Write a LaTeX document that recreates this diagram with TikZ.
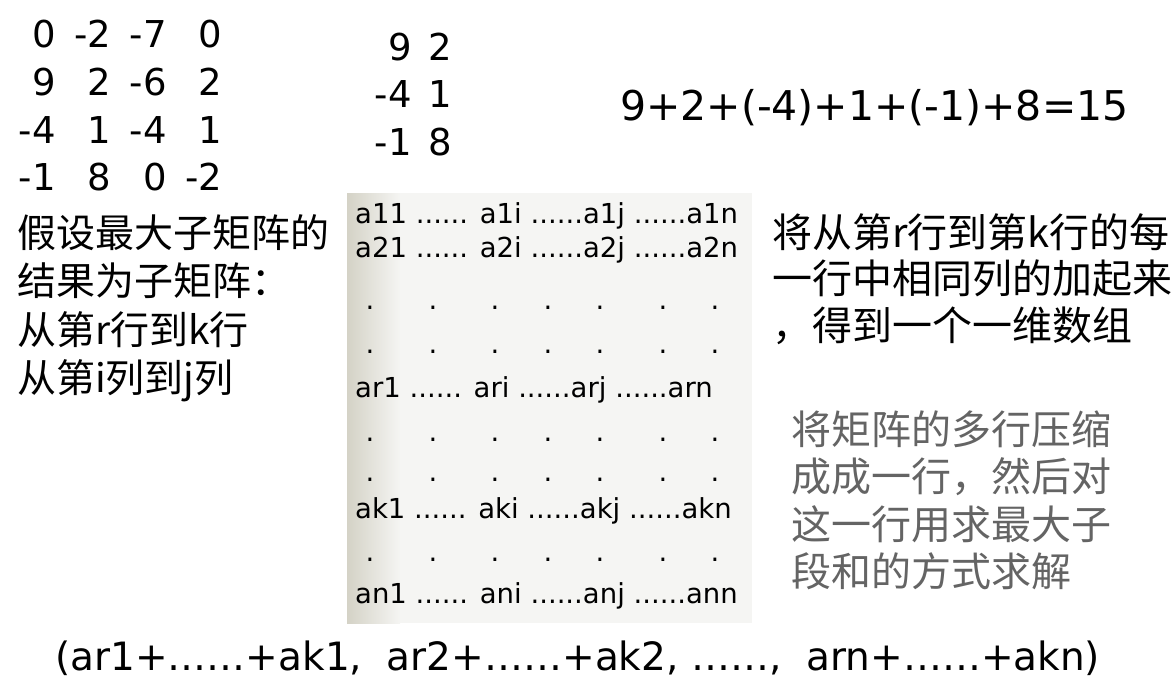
\documentclass[tikz,border=0pt]{standalone}
\usepackage{fontspec}
\setmainfont{DejaVu Sans}
\newfontfamily\cjk{Noto Sans CJK SC}
\usepackage{tikz}
\usetikzlibrary{positioning,calc}

\definecolor{boxL}{RGB}{212,210,198}
\definecolor{boxR}{RGB}{245,245,243}
\definecolor{noteGray}{RGB}{100,100,100}

\begin{document}
\begin{tikzpicture}[x=1pt,y=-1pt,
    num/.style={inner sep=0pt, font=\fontsize{37}{44}\selectfont},
    cell/.style={inner sep=0pt, font=\fontsize{27.5}{30}\selectfont},
    cn/.style={inner sep=0pt, anchor=base west, font=\cjk\fontsize{39}{48}\selectfont},
    note/.style={cn, text=noteGray}]
            \useasboundingbox (0,0) rectangle (1172,686);
            % example matrix
            \foreach \r/\row in {1/{0,-2,-7,0}, 2/{9,2,-6,2}, 3/{-4,1,-4,1}, 4/{-1,8,0,-2}} {
                \foreach \v [count=\c] in \row {
                    \node[num, anchor=base east] (m\r\c) at (55.5*\c+0.5, 47.7*\r) {\v};
                }
            }
            \foreach \r/\row in {1/{9,2}, 2/{-4,1}, 3/{-1,8}} {
                \foreach \v [count=\c] in \row {
                    \node[num, anchor=base east] (s\r\c) at (372+40*\c, 47.5*\r+12.5) {\v};
                }
            }
            \node[num, anchor=base west, font=\fontsize{41}{44}\selectfont] (sum) at (620,120) {9+2+(-4)+1+(-1)+8=15};
            % general matrix
            \fill[boxR] (347,193) rectangle (752,623);
            \shade[left color=boxL, right color=boxR] (347,193) rectangle (400,623);
            \foreach \t/\y [count=\i] in {{a11 ...... a1i ......a1j ......a1n}/223, {a21 ...... a2i ......a2j ......a2n}/257,
                {ar1 ...... ari ......arj ......arn}/397, {ak1 ...... aki ......akj ......akn}/518, {an1 ...... ani ......anj ......ann}/603} {
                \node[cell, anchor=base west] (a\i) at (355,\y) {\t};
            }
            \foreach \y [count=\i] in {308,352,440,480,560} {
                \foreach \x [count=\j] in {370,433,495,548,600,663,715} {
                    \node[cell] (d\i\j) at (\x,\y) {.};
                }
            }
            % text
            \foreach \t [count=\i] in {{假设最大子矩阵的}, {结果为子矩阵：}, {从第r行到k行}, {从第i列到j列}} {
                \node[cn] (L\i) at (17, 198.5+48.5*\i) {\t};
            }
            \foreach \t [count=\i] in {{将从第r行到第k行的每}, {一行中相同列的加起来}, {，得到一个一维数组}} {
                \node[cn, font=\cjk\fontsize{40}{48}\selectfont] (R\i) at (772, 200.5+46.5*\i) {\t};
            }
            \foreach \t [count=\i] in {{将矩阵的多行压缩}, {成成一行，然后对}, {这一行用求最大子}, {段和的方式求解}} {
                \node[note, font=\cjk\fontsize{40}{48}\selectfont] (G\i) at (791, 396.5+47.5*\i) {\t};
            }
            \node[num, anchor=base west, font=\fontsize{39}{44}\selectfont] (res) at (55,670) {(ar1+……+ak1,\ \ ar2+……+ak2, ……,\ \ arn+……+akn)};
        \end{tikzpicture}
\end{document}
